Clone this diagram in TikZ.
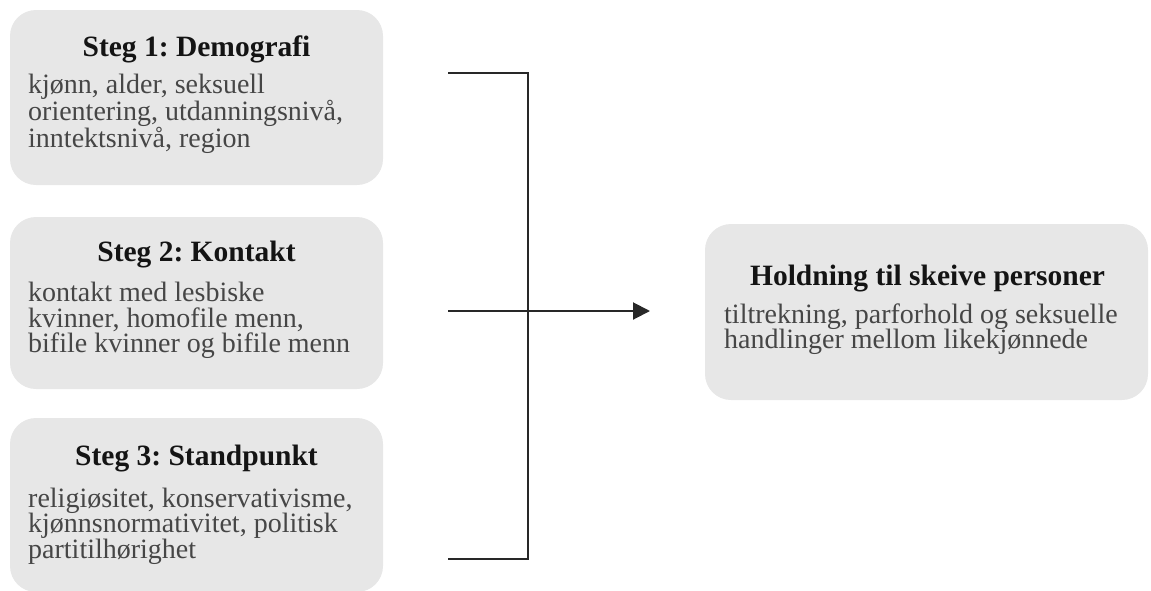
\documentclass[tikz,border=0pt]{standalone}
\usepackage{fontspec}
\setmainfont{Liberation Serif}
\usetikzlibrary{arrows.meta}
\frenchspacing
\definecolor{boxfill}{RGB}{231,231,231}
\definecolor{bodytext}{RGB}{70,70,70}
\definecolor{titletext}{RGB}{20,20,20}
\definecolor{linecol}{RGB}{40,40,40}
\begin{document}
\begin{tikzpicture}[x=1pt,y=1pt,
  panel/.style={draw=none, fill=boxfill, rounded corners=26pt, inner sep=0pt, minimum width=373pt},
  titletxt/.style={font=\fontsize{29.5}{30}\selectfont\bfseries\frenchspacing, text=titletext, anchor=base, inner sep=0pt},
  bodytxt/.style={font=\fontsize{28}{25.5}\selectfont\frenchspacing, text=bodytext, anchor=base west, inner sep=0pt, align=left},
  conn/.style={draw=linecol, line width=2pt}
]
\useasboundingbox (0,0) rectangle (1151,-590);
% panels
\node[panel, minimum height=175pt] (b1) at (196.5,-97.5) {};
\node[panel, minimum height=172pt] (b2) at (196.5,-303) {};
\node[panel, minimum height=174pt] (b3) at (196.5,-505) {};
\node[panel, minimum width=443pt, minimum height=176pt] (res) at (926.5,-312) {};
% titles
\node[titletxt] (t1) at (196.5,-56.7) {Steg 1: Demografi};
\node[titletxt] (t2) at (196.5,-261.7) {Steg 2: Kontakt};
\node[titletxt] (t3) at (196.5,-465) {Steg 3: Standpunkt};
\node[titletxt] (t4) at (927.5,-285) {Holdning til skeive personer};
% bodies (anchored at the baseline of the last line)
\node[bodytxt] (d1) at (28,-147.7) {kjønn, alder, seksuell\\orientering, utdanningsnivå,\\inntektsnivå, region};
\node[bodytxt] (d2) at (28,-352.7) {kontakt med lesbiske\\kvinner, homofile menn,\\bifile kvinner og bifile menn};
\node[bodytxt] (d3) at (28,-558) {religiøsitet, konservativisme,\\kjønnsnormativitet, politisk\\partitilhørighet};
\node[bodytxt] (d4) at (724,-348.5) {tiltrekning, parforhold og seksuelle\\handlinger mellom likekjønnede};
% connectors
\coordinate (s1) at (448,-73);
\coordinate (s2) at (448,-311);
\coordinate (s3) at (448,-559);
\coordinate (j1) at (528,-73);
\coordinate (j2) at (528,-311);
\coordinate (j3) at (528,-559);
\coordinate (tip) at (650,-311);
\draw[conn] (s1) -- (j1) -- (j3) -- (s3);
\draw[conn] (s2) -- (j2);
\draw[conn, -{Triangle[length=17pt,width=17pt]}] (j2) -- (tip);
\end{tikzpicture}
\end{document}
